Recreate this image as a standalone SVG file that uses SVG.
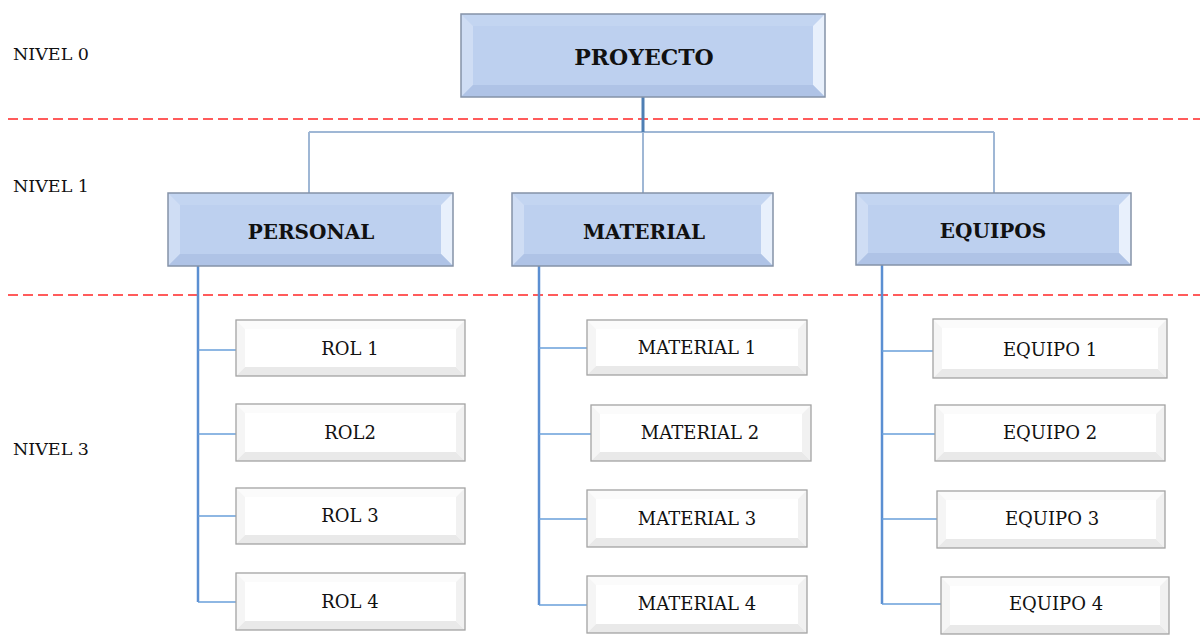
<svg xmlns="http://www.w3.org/2000/svg" width="1200" height="636" viewBox="0 0 1200 636">
<style>
  .lvl{font-family:"DejaVu Serif","Liberation Serif",serif;font-size:17.5px;fill:#111}
  .t0{font-family:"DejaVu Serif","Liberation Serif",serif;font-weight:bold;font-size:22px;fill:#111;text-anchor:middle}
  .t1{font-family:"DejaVu Serif","Liberation Serif",serif;font-weight:bold;font-size:20px;fill:#111;text-anchor:middle}
  .t2{font-family:"DejaVu Serif","Liberation Serif",serif;font-size:18px;fill:#111;text-anchor:middle}
  .bf{fill:#bdd0ef}
  .btb{fill:#c3d5f1}
  .blb{fill:#cfddf4}
  .brb{fill:#e8f0fc}
  .bbb{fill:#afc3e6}
  .bbord{fill:none;stroke:#8593a8;stroke-width:1.5}
  .wf{fill:#ffffff}
  .wt{fill:#fbfbfb}
  .wl{fill:#f5f5f5}
  .wr{fill:#f1f1f1}
  .wb{fill:#e9e9e9}
  .wbord{fill:none;stroke:#a3a3a3;stroke-width:1.3}
  .main{stroke:#4f7fb4;stroke-width:3;fill:none}
  .l1{stroke:#9fb7d5;stroke-width:2;fill:none}
  .spine{stroke:#5b8fd2;stroke-width:2.5;fill:none}
  .br2{stroke:#6aa0da;stroke-width:1.5;fill:none}
  .dash{stroke:#ff2626;stroke-width:1.5;stroke-dasharray:10 5;fill:none}
</style>

<g id="guides">
  <line class="dash" x1="8" y1="119" x2="1200" y2="119"/>
  <line class="dash" x1="8" y1="295" x2="1200" y2="295"/>
  <text class="lvl" x="13" y="60">NIVEL 0</text>
  <text class="lvl" x="13" y="192">NIVEL 1</text>
  <text class="lvl" x="13" y="455">NIVEL 3</text>
</g>

<g id="connectors">
  <line class="l1" x1="309" y1="132" x2="994" y2="132"/>
  <line class="l1" x1="309" y1="132" x2="309" y2="193"/>
  <line class="l1" x1="643" y1="132" x2="643" y2="193"/>
  <line class="l1" x1="994" y1="132" x2="994" y2="193"/>
  <line class="main" x1="643" y1="97" x2="643" y2="132"/>

  <path class="spine" d="M198,266 V602"/>
  <path class="br2" d="M198,350 H236 M198,434 H236 M198,516 H236 M198,602 H236"/>
  <path class="spine" d="M539,266 V605"/>
  <path class="br2" d="M539,348 H587 M539,434 H591 M539,519 H587 M539,605 H587"/>
  <path class="spine" d="M882,265 V604"/>
  <path class="br2" d="M882,351 H933 M882,434 H935 M882,519 H937 M882,604 H941"/>
</g>

<g id="proyecto">
  <rect class="bf" x="461" y="14" width="364" height="83"/>
  <polygon class="btb" points="461,14 825,14 813,26 473,26"/>
  <polygon class="blb" points="461,14 473,26 473,85 461,97"/>
  <polygon class="brb" points="825,14 825,97 813,85 813,26"/>
  <polygon class="bbb" points="461,97 825,97 813,85 473,85"/>
  <rect class="bbord" x="461" y="14" width="364" height="83"/>
  <text class="t0" x="644" y="65">PROYECTO</text>
</g>

<g id="personal">
  <rect class="bf" x="168" y="193" width="285" height="73"/>
  <polygon class="btb" points="168,193 453,193 441,205 180,205"/>
  <polygon class="blb" points="168,193 180,205 180,254 168,266"/>
  <polygon class="brb" points="453,193 453,266 441,254 441,205"/>
  <polygon class="bbb" points="168,266 453,266 441,254 180,254"/>
  <rect class="bbord" x="168" y="193" width="285" height="73"/>
  <text class="t1" x="311" y="239">PERSONAL</text>
</g>

<g id="material">
  <rect class="bf" x="512" y="193" width="261" height="73"/>
  <polygon class="btb" points="512,193 773,193 761,205 524,205"/>
  <polygon class="blb" points="512,193 524,205 524,254 512,266"/>
  <polygon class="brb" points="773,193 773,266 761,254 761,205"/>
  <polygon class="bbb" points="512,266 773,266 761,254 524,254"/>
  <rect class="bbord" x="512" y="193" width="261" height="73"/>
  <text class="t1" x="644" y="239">MATERIAL</text>
</g>

<g id="equipos">
  <rect class="bf" x="856" y="193" width="275" height="72"/>
  <polygon class="btb" points="856,193 1131,193 1119,205 868,205"/>
  <polygon class="blb" points="856,193 868,205 868,253 856,265"/>
  <polygon class="brb" points="1131,193 1131,265 1119,253 1119,205"/>
  <polygon class="bbb" points="856,265 1131,265 1119,253 868,253"/>
  <rect class="bbord" x="856" y="193" width="275" height="72"/>
  <text class="t1" x="993" y="238">EQUIPOS</text>
</g>

<g id="rol1">
  <rect class="wf" x="236" y="320" width="229" height="56"/>
  <polygon class="wt" points="236,320 465,320 456,329 245,329"/>
  <polygon class="wl" points="236,320 245,329 245,367 236,376"/>
  <polygon class="wr" points="465,320 465,376 456,367 456,329"/>
  <polygon class="wb" points="236,376 465,376 456,367 245,367"/>
  <rect class="wbord" x="236" y="320" width="229" height="56"/>
  <text class="t2" x="350" y="355">ROL 1</text>
</g>
<g id="rol2">
  <rect class="wf" x="236" y="404" width="229" height="57"/>
  <polygon class="wt" points="236,404 465,404 456,413 245,413"/>
  <polygon class="wl" points="236,404 245,413 245,452 236,461"/>
  <polygon class="wr" points="465,404 465,461 456,452 456,413"/>
  <polygon class="wb" points="236,461 465,461 456,452 245,452"/>
  <rect class="wbord" x="236" y="404" width="229" height="57"/>
  <text class="t2" x="350" y="439">ROL2</text>
</g>
<g id="rol3">
  <rect class="wf" x="236" y="488" width="229" height="56"/>
  <polygon class="wt" points="236,488 465,488 456,497 245,497"/>
  <polygon class="wl" points="236,488 245,497 245,535 236,544"/>
  <polygon class="wr" points="465,488 465,544 456,535 456,497"/>
  <polygon class="wb" points="236,544 465,544 456,535 245,535"/>
  <rect class="wbord" x="236" y="488" width="229" height="56"/>
  <text class="t2" x="350" y="522">ROL 3</text>
</g>
<g id="rol4">
  <rect class="wf" x="236" y="573" width="229" height="57"/>
  <polygon class="wt" points="236,573 465,573 456,582 245,582"/>
  <polygon class="wl" points="236,573 245,582 245,621 236,630"/>
  <polygon class="wr" points="465,573 465,630 456,621 456,582"/>
  <polygon class="wb" points="236,630 465,630 456,621 245,621"/>
  <rect class="wbord" x="236" y="573" width="229" height="57"/>
  <text class="t2" x="350" y="608">ROL 4</text>
</g>

<g id="material1">
  <rect class="wf" x="587" y="320" width="220" height="55"/>
  <polygon class="wt" points="587,320 807,320 798,329 596,329"/>
  <polygon class="wl" points="587,320 596,329 596,366 587,375"/>
  <polygon class="wr" points="807,320 807,375 798,366 798,329"/>
  <polygon class="wb" points="587,375 807,375 798,366 596,366"/>
  <rect class="wbord" x="587" y="320" width="220" height="55"/>
  <text class="t2" x="697" y="354">MATERIAL 1</text>
</g>
<g id="material2">
  <rect class="wf" x="591" y="405" width="220" height="56"/>
  <polygon class="wt" points="591,405 811,405 802,414 600,414"/>
  <polygon class="wl" points="591,405 600,414 600,452 591,461"/>
  <polygon class="wr" points="811,405 811,461 802,452 802,414"/>
  <polygon class="wb" points="591,461 811,461 802,452 600,452"/>
  <rect class="wbord" x="591" y="405" width="220" height="56"/>
  <text class="t2" x="700" y="439">MATERIAL 2</text>
</g>
<g id="material3">
  <rect class="wf" x="587" y="490" width="220" height="57"/>
  <polygon class="wt" points="587,490 807,490 798,499 596,499"/>
  <polygon class="wl" points="587,490 596,499 596,538 587,547"/>
  <polygon class="wr" points="807,490 807,547 798,538 798,499"/>
  <polygon class="wb" points="587,547 807,547 798,538 596,538"/>
  <rect class="wbord" x="587" y="490" width="220" height="57"/>
  <text class="t2" x="697" y="525">MATERIAL 3</text>
</g>
<g id="material4">
  <rect class="wf" x="587" y="576" width="220" height="57"/>
  <polygon class="wt" points="587,576 807,576 798,585 596,585"/>
  <polygon class="wl" points="587,576 596,585 596,624 587,633"/>
  <polygon class="wr" points="807,576 807,633 798,624 798,585"/>
  <polygon class="wb" points="587,633 807,633 798,624 596,624"/>
  <rect class="wbord" x="587" y="576" width="220" height="57"/>
  <text class="t2" x="697" y="610">MATERIAL 4</text>
</g>

<g id="equipo1">
  <rect class="wf" x="933" y="319" width="234" height="59"/>
  <polygon class="wt" points="933,319 1167,319 1158,328 942,328"/>
  <polygon class="wl" points="933,319 942,328 942,369 933,378"/>
  <polygon class="wr" points="1167,319 1167,378 1158,369 1158,328"/>
  <polygon class="wb" points="933,378 1167,378 1158,369 942,369"/>
  <rect class="wbord" x="933" y="319" width="234" height="59"/>
  <text class="t2" x="1050" y="356">EQUIPO 1</text>
</g>
<g id="equipo2">
  <rect class="wf" x="935" y="405" width="230" height="56"/>
  <polygon class="wt" points="935,405 1165,405 1156,414 944,414"/>
  <polygon class="wl" points="935,405 944,414 944,452 935,461"/>
  <polygon class="wr" points="1165,405 1165,461 1156,452 1156,414"/>
  <polygon class="wb" points="935,461 1165,461 1156,452 944,452"/>
  <rect class="wbord" x="935" y="405" width="230" height="56"/>
  <text class="t2" x="1050" y="439">EQUIPO 2</text>
</g>
<g id="equipo3">
  <rect class="wf" x="937" y="491" width="228" height="57"/>
  <polygon class="wt" points="937,491 1165,491 1156,500 946,500"/>
  <polygon class="wl" points="937,491 946,500 946,539 937,548"/>
  <polygon class="wr" points="1165,491 1165,548 1156,539 1156,500"/>
  <polygon class="wb" points="937,548 1165,548 1156,539 946,539"/>
  <rect class="wbord" x="937" y="491" width="228" height="57"/>
  <text class="t2" x="1052" y="525">EQUIPO 3</text>
</g>
<g id="equipo4">
  <rect class="wf" x="941" y="577" width="228" height="57"/>
  <polygon class="wt" points="941,577 1169,577 1160,586 950,586"/>
  <polygon class="wl" points="941,577 950,586 950,625 941,634"/>
  <polygon class="wr" points="1169,577 1169,634 1160,625 1160,586"/>
  <polygon class="wb" points="941,634 1169,634 1160,625 950,625"/>
  <rect class="wbord" x="941" y="577" width="228" height="57"/>
  <text class="t2" x="1056" y="610">EQUIPO 4</text>
</g>
</svg>
